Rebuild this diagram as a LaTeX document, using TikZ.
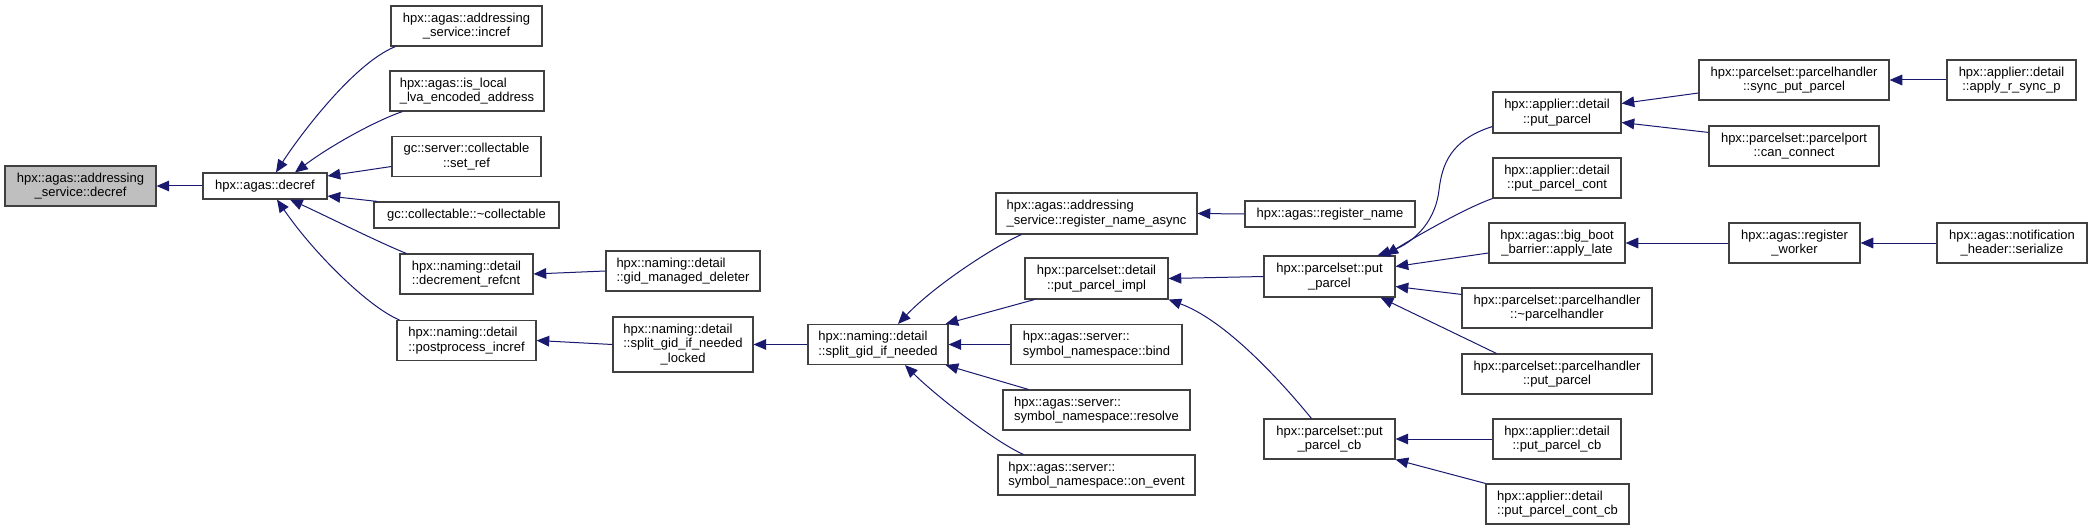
\documentclass[tikz,border=0pt]{standalone}
\usepackage{fontspec}
\setmainfont{Liberation Sans}
\usetikzlibrary{arrows.meta,calc}
\definecolor{edgec}{RGB}{25,25,112}
\definecolor{boxc}{RGB}{64,64,64}
\definecolor{rootfill}{RGB}{191,191,191}
\newcommand\dfont{\fontsize{9.75pt}{11pt}\selectfont}
\tikzset{
  wh/.style 2 args={minimum width=#1*0.75pt, minimum height=#2*0.75pt},
  box/.style={draw=boxc, line width=0.85pt, fill=white, inner sep=0pt, align=center, font=\dfont},
  lbox/.style={box, align=left},
  call/.style={draw=edgec, line width=0.75pt, -{Triangle[length=9.5pt,width=8pt]}},
}
\begin{document}
\begin{tikzpicture}[x=0.75pt,y=-0.75pt]
\fill[white] (0,0) rectangle (2092,531);
\useasboundingbox (0,0) rectangle (2092,531);

\node[box, fill=rootfill, wh={151}{40}] (root) at (80.5,186) {hpx::agas::addressing\\\_service::decref};
\node[box, wh={124}{26}] (decref) at (265,186) {hpx::agas::decref};
\node[box, wh={151}{40}] (incref) at (466.5,26) {hpx::agas::addressing\\\_service::incref};
\node[lbox, wh={154}{40}] (islocal) at (467,91) {hpx::agas::is\_local\\\_lva\_encoded\_address};
\node[box, wh={149}{40}] (setref) at (466.5,156.5) {gc::server::collectable\\::set\_ref};
\node[box, wh={185}{26}] (coll) at (466.5,215) {gc::collectable::\textasciitilde collectable};
\node[lbox, wh={133}{40}] (decr) at (466.5,274) {hpx::naming::detail\\::decrement\_refcnt};
\node[lbox, wh={139}{40}] (post) at (466.5,340.5) {hpx::naming::detail\\::postprocess\_incref};
\node[lbox, wh={154}{40}] (gidm) at (683,271) {hpx::naming::detail\\::gid\_managed\_deleter};
\node[lbox, wh={140}{55}] (splitl) at (683,344.5) {hpx::naming::detail\\::split\_gid\_if\_needed\\\hspace*{28pt}\_locked};
\node[lbox, wh={140}{40}] (split) at (878,344.5) {hpx::naming::detail\\::split\_gid\_if\_needed};
\node[lbox, wh={201}{41}] (regasync) at (1096.5,213.5) {hpx::agas::addressing\\\_service::register\_name\_async};
\node[box, wh={143}{41}] (ppimpl) at (1096.5,278.5) {hpx::parcelset::detail\\::put\_parcel\_impl};
\node[lbox, wh={171}{40}] (bind) at (1096.5,344.5) {hpx::agas::server::\\symbol\_namespace::bind};
\node[lbox, wh={187}{40}] (resolve) at (1096.5,410) {hpx::agas::server::\\symbol\_namespace::resolve};
\node[lbox, wh={197}{40}] (onevent) at (1096.5,475) {hpx::agas::server::\\symbol\_namespace::on\_event};
\node[box, wh={170}{26}] (regname) at (1330,214) {hpx::agas::register\_name};
\node[box, wh={131}{41}] (psput) at (1329.5,276.5) {hpx::parcelset::put\\\_parcel};
\node[box, wh={131}{40}] (psputcb) at (1329.5,439) {hpx::parcelset::put\\\_parcel\_cb};
\node[box, wh={128}{41}] (apput) at (1557,112.5) {hpx::applier::detail\\::put\_parcel};
\node[box, wh={128}{40}] (apcont) at (1557,178) {hpx::applier::detail\\::put\_parcel\_cont};
\node[box, wh={136}{40}] (bigboot) at (1557,243) {hpx::agas::big\_boot\\\_barrier::apply\_late};
\node[box, wh={190}{40}] (dtorph) at (1557,308) {hpx::parcelset::parcelhandler\\::\textasciitilde parcelhandler};
\node[box, wh={190}{40}] (phput) at (1557,374) {hpx::parcelset::parcelhandler\\::put\_parcel};
\node[box, wh={128}{40}] (apputcb) at (1557,439) {hpx::applier::detail\\::put\_parcel\_cb};
\node[lbox, wh={143}{40}] (apcontcb) at (1557.5,504) {hpx::applier::detail\\::put\_parcel\_cont\_cb};
\node[box, wh={190}{40}] (syncput) at (1794,80) {hpx::parcelset::parcelhandler\\::sync\_put\_parcel};
\node[box, wh={170}{40}] (canconn) at (1794,146) {hpx::parcelset::parcelport\\::can\_connect};
\node[box, wh={131}{40}] (regworker) at (1794.5,243) {hpx::agas::register\\\_worker};
\node[box, wh={129}{40}] (applyr) at (2011.5,80) {hpx::applier::detail\\::apply\_r\_sync\_p};
\node[box, wh={150}{40}] (serial) at (2012,243) {hpx::agas::notification\\\_header::serialize};

\draw[call] (decref.west) -- (root.east);
\draw[call] ($(incref.south west)+(5,0)$) .. controls (352,64) and (296,141) .. ($(decref.north)+(11,0)$);
\draw[call] ($(islocal.south west)+(13,0)$) .. controls (375,121) and (330,146) .. ($(decref.north)+(30,0)$);
\draw[call] ($(setref.west)+(0,10)$) -- ($(decref.east)+(0,-10)$);
\draw[call] ($(coll.north west)+(4,0)$) -- ($(decref.east)+(0,10)$);
\draw[call] ($(decr.north west)+(7,0)$) .. controls (380,243) and (320,213) .. ($(decref.south)+(25,0)$);
\draw[call] ($(post.north west)+(3,0)$) .. controls (370,308) and (315,255) .. ($(decref.south)+(12,0)$);
\draw[call] (gidm.west) -- (decr.east);
\draw[call] (splitl.west) -- (post.east);
\draw[call] (split.west) -- (splitl.east);
\draw[call] ($(regasync.south west)+(26,0)$) .. controls (995,246) and (935,285) .. ($(split.north)+(20,0)$);
\draw[call] ($(ppimpl.south west)+(10,0)$) -- ($(split.north east)+(-3,0)$);
\draw[call] (bind.west) -- (split.east);
\draw[call] ($(resolve.north west)+(26,0)$) -- ($(split.south east)+(-3,0)$);
\draw[call] ($(onevent.north west)+(26,0)$) .. controls (995,442) and (935,395) .. ($(split.south)+(27,0)$);
\draw[call] (regname.west) -- (regasync.east);
\draw[call] (psput.west) -- (ppimpl.east);
\draw[call] ($(psputcb.north west)+(48,0)$) .. controls (1280,380) and (1225,320) .. (ppimpl.south east);
\draw[call] ($(apput.west)+(0,14)$) .. controls (1450,140) and (1442,165) .. (1439,190) .. controls (1435,225) and (1410,245) .. ($(psput.north)+(48,0)$);
\draw[call] (apcont.south west) .. controls (1465,208) and (1410,240) .. ($(psput.north east)+(-10,0)$);
\draw[call] ($(bigboot.west)+(0,10)$) -- ($(psput.east)+(0,-10)$);
\draw[call] ($(dtorph.north west)+(0,7)$) -- ($(psput.east)+(0,10)$);
\draw[call] ($(phput.north west)+(35,0)$) -- ($(psput.south east)+(-15,0)$);
\draw[call] (apputcb.west) -- (psputcb.east);
\draw[call] (apcontcb.north west) -- (psputcb.south east);
\draw[call] ($(syncput.west)+(0,13)$) -- ($(apput.east)+(0,-9)$);
\draw[call] ($(canconn.north west)+(0,7)$) -- ($(apput.east)+(0,10)$);
\draw[call] (applyr.west) -- (syncput.east);
\draw[call] (regworker.west) -- (bigboot.east);
\draw[call] (serial.west) -- (regworker.east);
\end{tikzpicture}
\end{document}
